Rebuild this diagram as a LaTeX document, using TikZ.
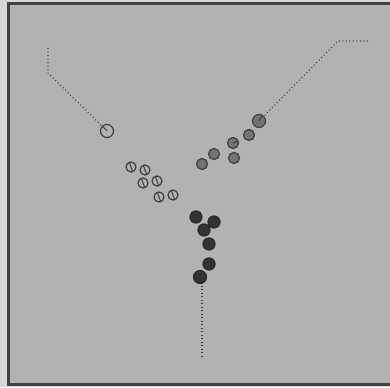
\documentclass[tikz,border=0pt]{standalone}
\usepackage{tikz}
\usetikzlibrary{positioning}
\definecolor{arena}{gray}{0.70}
\definecolor{outside}{gray}{0.84}
\definecolor{edge}{gray}{0.25}
\definecolor{midboid}{gray}{0.45}
\definecolor{darkboid}{gray}{0.20}
\tikzset{
  wboid/.style={
    draw=edge, circle, line width=0.35pt,
    minimum size=1.0mm, inner sep=0pt
  },
  gboid/.style={
    draw=edge, circle, line width=0.35pt, fill=midboid,
    minimum size=1.1mm, inner sep=0pt
  },
  dboid/.style={
    draw=darkboid!80!black, circle, line width=0.35pt, fill=darkboid,
    minimum size=1.2mm, inner sep=0pt
  },
  lead/.style={minimum size=1.3mm},
  trail/.style={edge, line width=0.3pt, dash pattern=on 0.3pt off 0.7pt},
  hdg/.style={edge, line width=0.3pt},
}

\begin{document}
\begin{tikzpicture}[x=0.1mm, y=-0.1mm]
        \useasboundingbox (0,0) rectangle (390,387);
        \fill[outside] (0,0) rectangle (390,387);
        \draw[edge, fill=arena, line width=0.6pt] (8.5,3.5) rectangle (392,384.5);
        % white flock
        \node[wboid, lead] (w1) at (107,131) {};
        \foreach \idx/\cx/\cy in
          {2/131/167, 3/145/170, 4/143/183, 5/157/181, 6/159/197, 7/173/195}{
          \node[wboid] (w\idx) at (\cx,\cy) {};
          \draw[hdg] (w\idx.110) -- (w\idx.-70);
        }
        \draw[hdg] (w1.center) -- (w1.135);
        % grey flock
        \node[gboid, lead] (g1) at (259,121) {};
        \foreach \idx/\cx/\cy in
          {2/249/135, 3/233/143, 4/214/154, 5/234/158, 6/202/164}{
          \node[gboid] (g\idx) at (\cx,\cy) {};
        }
        \draw[hdg] (g1.center) -- (g1.60);
        \draw[hdg] (g3.center) -- (g3.20);
        % dark flock
        \node[dboid, lead] (d1) at (200,277) {};
        \foreach \idx/\cx/\cy in
          {2/196/217, 3/214/222, 4/204/230, 5/209/244, 6/209/264}{
          \node[dboid] (d\idx) at (\cx,\cy) {};
        }
        % trails
        \coordinate (wt0) at (48,48);
        \coordinate (wt1) at (48,73);
        \coordinate (gt0) at (368,41);
        \coordinate (gt1) at (338,41);
        \coordinate (dt0) at (202,357);
        \draw[trail] (wt0) -- (wt1) -- (w1.135);
        \draw[trail] (gt0) -- (gt1) -- (g1.45);
        \draw[trail] (dt0) -- (d1.south -| dt0);
      \end{tikzpicture}
\end{document}
